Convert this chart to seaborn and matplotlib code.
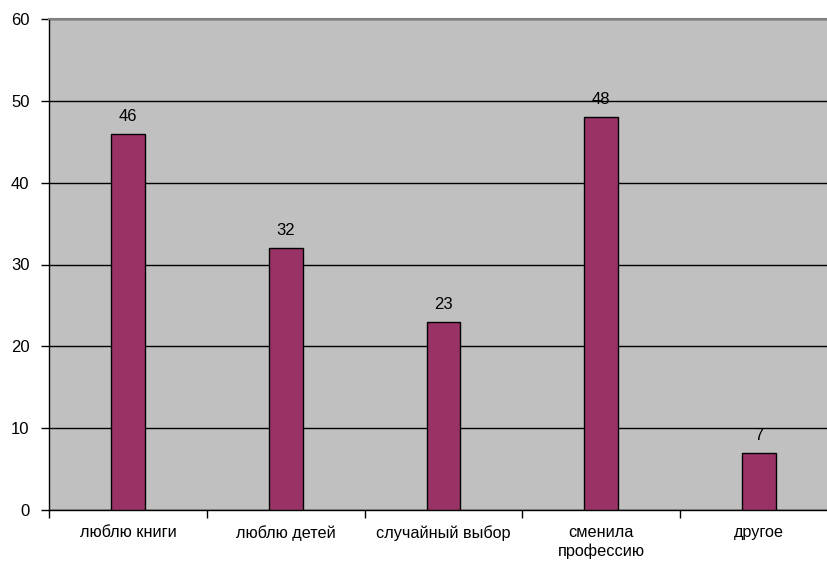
import matplotlib
matplotlib.use("Agg")
import matplotlib.pyplot as plt
import seaborn as sns
import pandas as pd
from matplotlib.ticker import FixedLocator

categories = ["люблю книги", "люблю детей", "случайный выбор", "сменила\nпрофессию", "другое"]
values = [46, 32, 23, 48, 7]
yticks = [0, 10, 20, 30, 40, 50, 60]

sns.set_style("white")
plt.rcParams['font.family'] = ['Liberation Sans', 'DejaVu Sans']
plt.rcParams['text.color'] = 'black'
plt.rcParams['xtick.color'] = 'black'
plt.rcParams['ytick.color'] = 'black'

df = pd.DataFrame({"cat": categories, "val": values})

fig = plt.figure(figsize=(8.27, 5.65), dpi=100)
ax = fig.add_axes([49/827, 1 - 510/565, (838 - 49)/827, (510 - 19)/565])
ax.set_facecolor("#C0C0C0")

sns.barplot(data=df, x="cat", y="val", order=categories, color="#993366",
            saturation=1, width=0.215, edgecolor="black", linewidth=1.0, ax=ax, zorder=3)

ax.set_xlim(-0.5, len(categories) - 0.5)
ax.set_ylim(0, 60)
ax.set_yticks(yticks)
ax.set_yticklabels([str(t) for t in yticks], fontsize=12, color="black")
ax.yaxis.grid(True, color="black", linewidth=1.0, zorder=1)
ax.set_axisbelow(True)

ax.set_xticks(range(len(categories)))
ax.set_xticklabels(categories, fontsize=11.7, linespacing=1.25, color="black")
ax.tick_params(axis="x", which="major", length=0, pad=11)
ax.xaxis.set_minor_locator(FixedLocator([i - 0.5 for i in range(len(categories) + 1)]))
ax.tick_params(axis="x", which="minor", length=6, width=1, color="black", direction="out", bottom=True)
ax.tick_params(axis="y", length=6, width=1, color="black", direction="out", left=True, pad=8)

for s in ["left", "bottom"]:
    ax.spines[s].set_color("black")
    ax.spines[s].set_linewidth(1.0)
ax.spines["top"].set_color("#808080")
ax.spines["top"].set_linewidth(1.5)
ax.spines["right"].set_visible(False)

ax.set_xlabel("")
ax.set_ylabel("")

for i, v in enumerate(values):
    ax.annotate(str(v), xy=(i, v), xytext=(0, 7), textcoords="offset points",
                ha="center", va="bottom", fontsize=12, color="black", zorder=4)

fig.savefig("out.png", dpi=100, facecolor="white")
